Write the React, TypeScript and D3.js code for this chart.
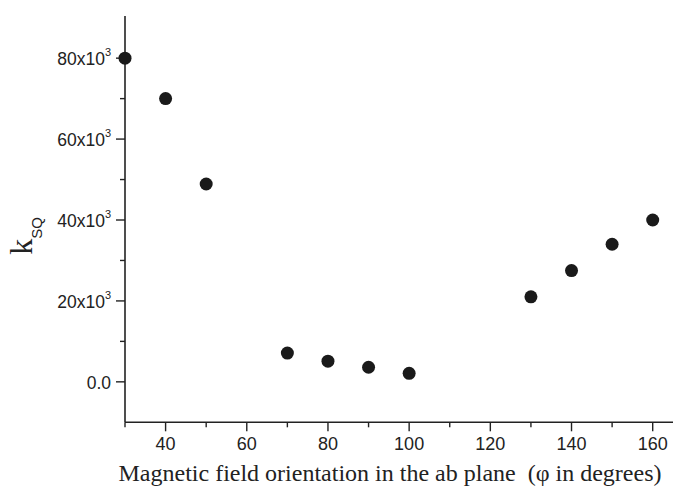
import React from "react";
import * as d3 from "d3";

const angles = [30, 40, 50, 70, 80, 90, 100, 130, 140, 150, 160];
const kValues = [80000, 70000, 48900, 7100, 5100, 3600, 2100, 21000, 27500, 34000, 40000];
const xMajorTicks = [40, 60, 80, 100, 120, 140, 160];
const xMinorTicks = [30, 50, 70, 90, 110, 130, 150];
const yMajorTicks = [0, 20000, 40000, 60000, 80000];
const yMinorTicks = [10000, 30000, 50000, 70000];
const xTitle = "Magnetic field orientation in the ab plane  (\u03c6 in degrees)";

const W = 676;
const H = 490;

export default function App() {
  const x = d3.scaleLinear().domain([30, 165]).range([125, 673]);
  const y = d3.scaleLinear().domain([-10000, 90000]).range([422.3, 17.7]);
  const x0 = x(30);
  const yb = y(-10000);
  const sans = "'Liberation Sans', Arial, sans-serif";
  const serif = "'Liberation Serif', 'Times New Roman', serif";
  return (
    <svg width={W} height={H} style={{ position: "absolute", left: 0, top: 0, background: "#fff" }}>
      {/* axes */}
      <line x1={x0} x2={x0} y1={16} y2={yb} stroke="#222" strokeWidth={1.6} />
      <line x1={x0} x2={673} y1={yb} y2={yb} stroke="#222" strokeWidth={1.6} />
      {yMajorTicks.map((t) => (
        <g key={"ym" + t}>
          <line x1={x0 - 9} x2={x0} y1={y(t)} y2={y(t)} stroke="#222" strokeWidth={1.4} />
          <text x={x0 - 14} y={y(t) + 7} textAnchor="end" fontFamily={sans} fontSize={17.5} fill="#222">
            {t === 0 ? "0.0" : (
              <>
                {t / 1000 + "x10"}
                <tspan fontSize={11} dy={-9}>3</tspan>
              </>
            )}
          </text>
        </g>
      ))}
      {yMinorTicks.map((t) => (
        <line key={"yn" + t} x1={x0 - 5} x2={x0} y1={y(t)} y2={y(t)} stroke="#222" strokeWidth={1.4} />
      ))}
      {xMajorTicks.map((t) => (
        <g key={"xm" + t}>
          <line x1={x(t)} x2={x(t)} y1={yb} y2={yb + 9} stroke="#222" strokeWidth={1.4} />
          <text x={x(t)} y={yb + 28} textAnchor="middle" fontFamily={sans} fontSize={18} fill="#222">
            {t}
          </text>
        </g>
      ))}
      {xMinorTicks.map((t) => (
        <line key={"xn" + t} x1={x(t)} x2={x(t)} y1={yb} y2={yb + 5} stroke="#222" strokeWidth={1.4} />
      ))}
      {/* points */}
      {angles.map((a, i) => (
        <circle key={"p" + a} cx={x(a)} cy={y(kValues[i])} r={6.5} fill="#1a1a1a" />
      ))}
      {/* y title */}
      <text transform={`translate(31.5, 236) rotate(-90)`} textAnchor="middle" fill="#222">
        <tspan fontFamily={serif} fontSize={32}>k</tspan>
        <tspan fontFamily={sans} fontSize={15} dy={10}>SQ</tspan>
      </text>
      {/* x title */}
      <text x={390} y={481} textAnchor="middle" fontFamily={serif} fontSize={24} fill="#222" style={{ whiteSpace: "pre" }}>
        {xTitle}
      </text>
    </svg>
  );
}
